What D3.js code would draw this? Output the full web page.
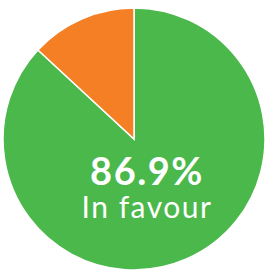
<!DOCTYPE html>
<html>
<head>
<meta charset="utf-8">
<script src="https://cdn.jsdelivr.net/npm/d3@7"></script>
<style>
  body { margin: 0; background: #fff; }
</style>
</head>
<body>
<svg id="chart" width="266" height="271"></svg>
<script>
// chart data
var categories = ['In favour', 'Against'];
var values = [86.9, 13.1];
var colors = ['#4ab84a', '#f47f24'];

var svg = d3.select('#chart');

var cx = 134, cy = 139, radius = 131;

var g = svg.append('g')
    .attr('transform', 'translate(' + cx + ',' + cy + ')');

var pie = d3.pie().sort(null).value(function(d) { return d; });
var arc = d3.arc().innerRadius(0).outerRadius(radius);

g.selectAll('.slice')
    .data(pie(values))
    .enter()
    .append('path')
    .attr('class', 'slice')
    .attr('d', arc)
    .attr('fill', function(d, i) { return colors[i]; })
    .attr('stroke', '#fff')
    .attr('stroke-width', 1.5);

// label
svg.append('text')
    .attr('x', 147)
    .attr('y', 185)
    .attr('text-anchor', 'middle')
    .attr('fill', '#fff')
    .style('font-family', 'Lato, sans-serif')
    .style('font-weight', 'bold')
    .style('font-size', '38px')
    .style('letter-spacing', '1.5px')
    .text(values[0] + '%');

svg.append('text')
    .attr('x', 147)
    .attr('y', 218)
    .attr('text-anchor', 'middle')
    .attr('fill', '#fff')
    .style('font-family', 'Lato, sans-serif')
    .style('font-size', '30px')
    .style('letter-spacing', '1.5px')
    .text(categories[0]);
</script>
</body>
</html>
